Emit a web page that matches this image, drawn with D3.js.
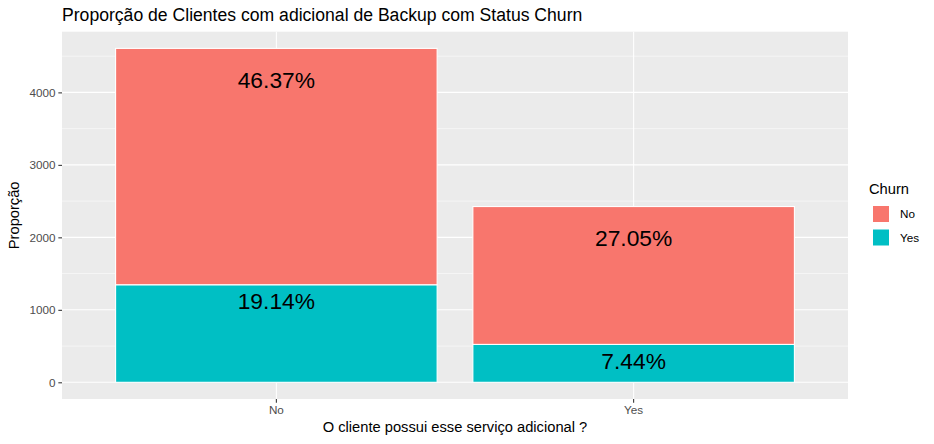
<!DOCTYPE html>
<html>
<head>
<meta charset="utf-8">
<script src="https://cdn.jsdelivr.net/npm/d3@7"></script>
<style>
  html, body { margin: 0; padding: 0; background: #fff; }
  svg text { font-family: "Liberation Sans", Arial, Helvetica, sans-serif; }
</style>
</head>
<body>
<svg id="chart" width="934" height="444"></svg>
<script>
// ---- data ----
const categories = ["No", "Yes"];              // O cliente possui esse serviço adicional ?
const churnLevels = ["No", "Yes"];             // fill groups (stack order: Yes at bottom)
const countChurnNo = [3261, 1902];
const countChurnYes = [1346, 523];
const yTicks = [0, 1000, 2000, 3000, 4000];
const yMinor = [500, 1500, 2500, 3500, 4500];
const colors = ["#F8766D", "#00BFC4"];

const total = d3.sum(countChurnNo) + d3.sum(countChurnYes);

// ---- layout ----
const panel = { left: 62, right: 848, top: 31.7, bottom: 399 };
const svg = d3.select("#chart");

const x = d3.scaleBand().domain(categories)
  .range([panel.left, panel.right]).paddingInner(0.1).paddingOuter(0.15);
const stackTotals = categories.map((c, i) => countChurnNo[i] + countChurnYes[i]);
const yMax = d3.max(stackTotals);
const y = d3.scaleLinear().domain([-0.05 * yMax, 1.05 * yMax])
  .range([panel.bottom, panel.top]);

// panel background
svg.append("rect").attr("x", panel.left).attr("y", panel.top)
  .attr("width", panel.right - panel.left).attr("height", panel.bottom - panel.top)
  .attr("fill", "#EBEBEB");

// grid
const g = svg.append("g");
g.selectAll("line.minor").data(yMinor).enter().append("line")
  .attr("x1", panel.left).attr("x2", panel.right)
  .attr("y1", d => y(d)).attr("y2", d => y(d))
  .attr("stroke", "#fff").attr("stroke-width", 0.53);
g.selectAll("line.major").data(yTicks).enter().append("line")
  .attr("x1", panel.left).attr("x2", panel.right)
  .attr("y1", d => y(d)).attr("y2", d => y(d))
  .attr("stroke", "#fff").attr("stroke-width", 1.07);
g.selectAll("line.vmajor").data(categories).enter().append("line")
  .attr("x1", d => x(d) + x.bandwidth() / 2).attr("x2", d => x(d) + x.bandwidth() / 2)
  .attr("y1", panel.top).attr("y2", panel.bottom)
  .attr("stroke", "#fff").attr("stroke-width", 1.07);

// stacked data: Yes (bottom), No (top)
const rows = categories.map((c, i) => ({ cat: c, No: countChurnNo[i], Yes: countChurnYes[i] }));
const stack = d3.stack().keys(["Yes", "No"]);
const series = stack(rows);

const fillOf = k => colors[churnLevels.indexOf(k)];
const labelOffset = { No: 31.5, Yes: 16 }; // px below segment top (label centre)

series.forEach(s => {
  svg.append("g").selectAll("rect").data(s).enter().append("rect")
    .attr("x", d => x(d.data.cat))
    .attr("width", x.bandwidth())
    .attr("y", d => y(d[1]))
    .attr("height", d => y(d[0]) - y(d[1]))
    .attr("fill", fillOf(s.key))
    .attr("stroke", "#fff").attr("stroke-width", 1.1);
});
series.forEach(s => {
  svg.append("g").selectAll("text").data(s).enter().append("text")
    .attr("x", d => x(d.data.cat) + x.bandwidth() / 2)
    .attr("y", d => y(d[1]) + labelOffset[s.key])
    .attr("dy", "0.36em")
    .attr("text-anchor", "middle")
    .attr("font-size", "22.8px")
    .attr("fill", "#000")
    .text(d => (100 * (d[1] - d[0]) / total).toFixed(2) + "%");
});

// axes
const yAxis = d3.axisLeft(y).tickValues(yTicks).tickSize(3.67).tickPadding(2.9)
  .tickFormat(d3.format("d"));
const ya = svg.append("g").attr("transform", `translate(${panel.left},0)`).call(yAxis);
ya.select(".domain").remove();
ya.selectAll(".tick line").attr("stroke", "#333333").attr("stroke-width", 1.07);
ya.selectAll(".tick text").attr("fill", "#4D4D4D").attr("font-size", "11.7px")
  .style("font-family", "'Liberation Sans', Arial, sans-serif");

const xAxis = d3.axisBottom(x).tickSize(3.67).tickPadding(2.9);
const xa = svg.append("g").attr("transform", `translate(0,${panel.bottom})`).call(xAxis);
xa.select(".domain").remove();
xa.selectAll(".tick line").attr("stroke", "#333333").attr("stroke-width", 1.07);
xa.selectAll(".tick text").attr("fill", "#4D4D4D").attr("font-size", "11.7px")
  .style("font-family", "'Liberation Sans', Arial, sans-serif");

// titles
svg.append("text").attr("x", panel.left).attr("y", 20.7)
  .attr("font-size", "17.6px").attr("fill", "#000")
  .text("Proporção de Clientes com adicional de Backup com Status Churn");
svg.append("text").attr("x", (panel.left + panel.right) / 2).attr("y", 431.5)
  .attr("text-anchor", "middle").attr("font-size", "14.7px").attr("fill", "#000")
  .text("O cliente possui esse serviço adicional ?");
svg.append("text")
  .attr("transform", `translate(18.5,${(panel.top + panel.bottom) / 2}) rotate(-90)`)
  .attr("text-anchor", "middle").attr("font-size", "14.7px").attr("fill", "#000")
  .text("Proporção");

// legend
const lg = svg.append("g");
lg.append("text").attr("x", 869).attr("y", 194).attr("font-size", "14.7px")
  .attr("fill", "#000").text("Churn");
churnLevels.forEach((k, i) => {
  lg.append("rect").attr("x", 872.5).attr("y", 205.5 + i * 23.5)
    .attr("width", 17).attr("height", 17)
    .attr("fill", colors[i]).attr("stroke", "#fff").attr("stroke-width", 1);
  lg.append("text").attr("x", 900).attr("y", 214 + i * 23.5).attr("dy", "0.36em")
    .attr("font-size", "11.7px").attr("fill", "#000").text(k);
});
</script>
</body>
</html>
